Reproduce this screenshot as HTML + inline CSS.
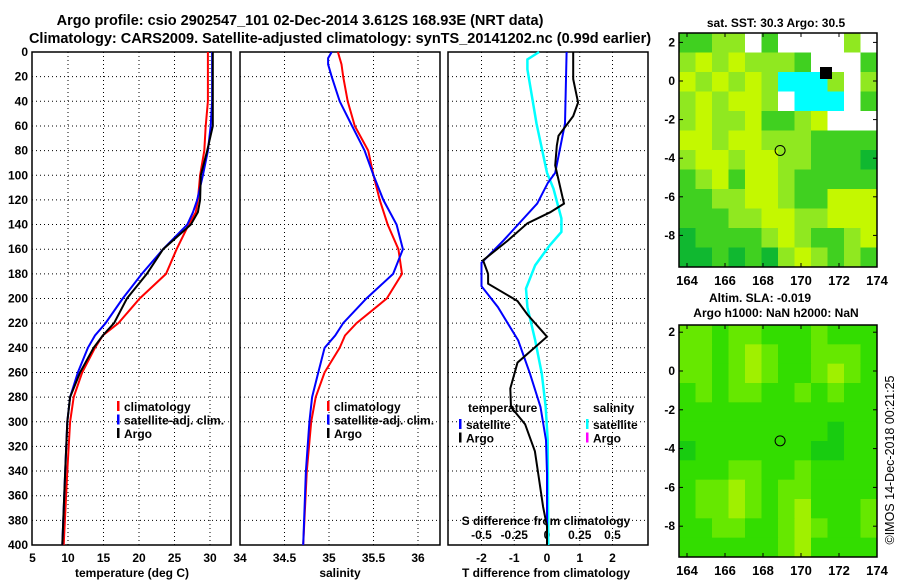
<!DOCTYPE html>
<html><head><meta charset="utf-8"><style>
body{margin:0;background:#fff;}
svg text{font-family:"Liberation Sans",sans-serif;font-weight:bold;fill:#000;}
</style></head><body>
<svg id="c" width="900" height="580" xmlns="http://www.w3.org/2000/svg"></svg>
<script>
// ---------- DATA ----------
const depths = [0,20,40,60,80,100,120,130,140,160,180,200,220,230,240,260,280,300,340,400];
const tempClim = [29.7,29.7,29.7,29.4,29.2,28.6,28.3,28.0,27.0,25.3,23.8,20.1,17.1,14.9,13.8,12.0,10.8,10.3,9.9,9.4];
const tempSat  = [30.3,30.3,30.3,30.1,29.7,29.0,28.2,27.6,26.8,23.4,20.4,17.7,15.3,13.8,12.8,11.4,10.3,9.9,9.6,9.2];
const tempArgo = [30.4,30.4,30.4,30.4,29.6,28.7,28.6,28.3,27.3,23.4,21.1,18.3,16.5,14.9,13.6,11.7,10.3,9.9,9.6,9.2];
const salDepths = [0,5,10,20,40,60,80,100,120,140,160,180,200,220,230,240,260,280,300,340,400];
const salClim = [35.1,35.12,35.14,35.16,35.21,35.29,35.44,35.5,35.57,35.66,35.78,35.82,35.65,35.31,35.18,35.12,34.95,34.85,34.8,34.75,34.71];
const salSat  = [35.03,34.99,34.99,35.03,35.12,35.26,35.4,35.5,35.61,35.76,35.83,35.72,35.42,35.16,35.07,34.95,34.88,34.81,34.78,34.74,34.71];
const dDepthSat = [0,58,98,106,123,153,171,190,207,234,261,288,315,342,400];
const dTSat = [0.6,0.55,0.25,0.03,-0.3,-1.33,-2.0,-2.0,-1.5,-0.88,-0.52,-0.2,-0.03,0,0];
const dDepthArgo = [0,22,41,52,68,76,92,123,130,139,153,169,180,188,202,213,231,252,273,288,302,324,342,369,385,400];
const dTArgo = [0.8,0.8,0.95,0.8,0.35,0.3,0.25,0.52,0.1,-0.6,-1.2,-1.95,-1.8,-1.8,-0.9,-0.6,0,-0.9,-1.12,-1.1,-0.67,-0.37,-0.27,-0.12,0,0];
const dDepthS = [0,6,14,58,98,111,135,146,157,173,192,207,234,261,288,315,400];
const dSSat = [-0.06,-0.15,-0.15,-0.08,0,0.05,0.11,0.11,0.02,-0.09,-0.16,-0.15,-0.09,-0.04,-0.01,0.005,0.01];
const depthTicks = [0,20,40,60,80,100,120,140,160,180,200,220,240,260,280,300,320,340,360,380,400];
const tTicks = [5,10,15,20,25,30];
const sTicks = [34,34.5,35,35.5,36];
const dTTicks = [-2,-1,0,1,2];
const dSTicks = [-0.5,-0.25,0,0.25,0.5];
const sstGrid = [
[3,3,2,2,0,3,0,0,0,0,2,0],
[2,1,2,1,2,2,2,3,0,0,0,3],
[1,2,1,2,1,2,5,5,5,2,0,2],
[2,1,2,1,1,2,0,5,5,5,0,3],
[2,1,2,2,1,3,3,2,1,0,0,0],
[1,1,2,1,1,2,2,2,3,3,3,3],
[2,1,1,2,1,1,2,2,3,3,3,4],
[3,2,1,3,1,1,2,3,3,3,3,3],
[3,3,2,2,1,1,2,3,3,1,1,1],
[3,3,3,2,2,1,1,2,2,1,1,1],
[4,3,3,3,3,2,1,2,3,3,2,1],
[4,4,3,4,3,4,2,1,2,3,2,3]];
const slaGrid = [
[2,2,3,2,2,3,3,3,2,3,3,3],
[2,2,3,2,1,2,3,3,2,2,2,3],
[2,2,3,2,1,2,3,3,2,1,2,3],
[3,2,3,2,2,3,3,2,3,2,3,3],
[3,3,3,3,3,3,3,3,3,3,3,3],
[3,3,3,3,3,3,3,3,3,4,3,3],
[4,3,3,3,3,3,3,3,4,4,3,3],
[3,3,3,2,2,3,3,2,3,3,3,3],
[3,2,2,1,2,3,2,2,3,3,3,3],
[3,2,2,1,2,3,2,1,3,3,3,2],
[3,3,2,2,3,3,2,1,2,3,3,2],
[3,3,3,3,3,3,2,1,3,3,3,3]];
const lonTicks = [164,166,168,170,172,174];
const latTicks = [2,0,-2,-4,-6,-8];
const argoLon = 168.9, argoLat = -3.6;

// ---------- HELPERS ----------
const NS="http://www.w3.org/2000/svg", svg=document.getElementById('c');
function el(t,a,p){const e=document.createElementNS(NS,t);for(const k in a)e.setAttribute(k,a[k]);(p||svg).appendChild(e);return e;}
function txt(s,x,y,anchor,size,p){const e=el('text',{x:x,y:y,'text-anchor':anchor||'middle','font-size':size||12},p);e.textContent=s;return e;}
const plotTop=52, plotBot=545;
const yD = d => plotTop + d*(plotBot-plotTop)/400;
const xT = t => 32.5 + (t-5)*7.1;
const xS = s => 240 + (s-34)*89;
const xDT = t => 547 + t*32.75;
const xDS = s => 547 + s*131;

function panel(x0,x1,name,xticks,xf){
  const g=el('g',{});
  
  
  el('rect',{x:x0,y:plotTop,width:x1-x0,height:plotBot-plotTop,fill:'#fff',stroke:'#000','stroke-width':1.5},g);
  depthTicks.forEach(d=>{ if(d>0&&d<400) el('line',{x1:x0,x2:x1,y1:yD(d),y2:yD(d),stroke:'#000','stroke-dasharray':'1,3'},g);});
  xticks.forEach(v=>{const x=xf(v); if(x>x0+2&&x<x1-2) el('line',{x1:x,x2:x,y1:plotTop,y2:plotBot,stroke:'#000','stroke-dasharray':'1,3'},g);});
  return g;
}
function line(ds,vs,xf,col,w,name){
  const pts=ds.map((d,i)=>xf(vs[i]).toFixed(1)+','+yD(d).toFixed(1)).join(' ');
  const p=el('polyline',{points:pts,fill:'none',stroke:col,'stroke-width':w||2});
  
  
}

// titles
let t1=txt('Argo profile: csio 2902547_101 02-Dec-2014 3.612S 168.93E (NRT data)',300,25,'middle',14.5);


let t2=txt('Climatology: CARS2009. Satellite-adjusted climatology: synTS_20141202.nc (0.99d earlier)',340,43,'middle',14.5);



// panel 1
panel(32,231,'temperature-panel',tTicks,xT);
depthTicks.forEach(d=>txt(String(d),28,yD(d)+4,'end',12));
tTicks.forEach(v=>txt(String(v),xT(v),562,'middle',12));
txt('34',xS(34),562,'middle',12);
let xl=txt('temperature (deg C)',132,577,'middle',12);


line(depths,tempClim,xT,'#f00',2,'temp-climatology-line');
line(depths,tempSat,xT,'#00f',2,'temp-satellite-line');
line(depths,tempArgo,xT,'#000',2,'temp-argo-line');
[['climatology','#f00'],['satellite-adj. clim.','#00f'],['Argo','#000']].forEach((l,i)=>{
  const y=407+i*13.5;
  el('rect',{x:117,y:y-6,width:2.5,height:10,fill:l[1]});
  const e=txt(l[0],124,y+4,'start',12);
  
  
});

// panel 2
panel(240,440,'salinity-panel',sTicks,xS);
sTicks.slice(1).forEach(v=>txt(String(v),xS(v),562,'middle',12));
let xl2=txt('salinity',340,577,'middle',12);


line(salDepths,salClim,xS,'#f00',2,'sal-climatology-line');
line(salDepths,salSat,xS,'#00f',2,'sal-satellite-line');
[['climatology','#f00'],['satellite-adj. clim.','#00f'],['Argo','#000']].forEach((l,i)=>{
  const y=407+i*13.5;
  el('rect',{x:327,y:y-6,width:2.5,height:10,fill:l[1]});
  const e=txt(l[0],334,y+4,'start',12);
  
  
});

// panel 3
panel(448,648,'difference-panel',dTTicks,xDT);
dTTicks.forEach(v=>txt(String(v),xDT(v),562,'middle',12));
let xl3=txt('T difference from climatology',546,577,'middle',12);


txt('S difference from climatology',546,525,'middle',12);
dSTicks.forEach(v=>txt(String(v),xDS(v),539,'middle',12));
line(dDepthS,dSSat,xDS,'#0ff',2.5,'sal-diff-satellite-line');
line(dDepthSat,dTSat,xDT,'#00f',2,'temp-diff-satellite-line');
line(dDepthArgo,dTArgo,xDT,'#000',2,'temp-diff-argo-line');
txt('temperature',468,412,'start',12);
txt('salinity',593,412,'start',12);
[['satellite','#00f',459],['Argo','#000',459],['satellite','#0ff',586],['Argo','#f0f',586]].forEach((l,i)=>{
  const y=425+(i%2)*13.5;
  el('rect',{x:l[2],y:y-6,width:2.5,height:10,fill:l[1]});
  const e=txt(l[0],l[2]+7,y+4,'start',12);
  
  
});

// maps
const lonX = lo => 687 + (lo-164)*19;
function map(grid,pal,y0,y1,latY,labelY,name){
  const g=el('g',{});
  
  
  const x0=679,x1=877,nr=grid.length,nc=grid[0].length;
  const cw=(x1-x0)/nc, ch=(y1-y0)/nr;
  grid.forEach((row,r)=>row.forEach((v,c)=>{
    el('rect',{x:x0+c*cw,y:y0+r*ch,width:cw+0.5,height:ch+0.5,fill:pal[v]},g);
  }));
  el('rect',{x:x0,y:y0,width:x1-x0,height:y1-y0,fill:'none',stroke:'#000','stroke-width':1.5},g);
  lonTicks.forEach(v=>{
    el('line',{x1:lonX(v),x2:lonX(v),y1:y1,y2:y1-4,stroke:'#000'},g);
    el('line',{x1:lonX(v),x2:lonX(v),y1:y0,y2:y0+4,stroke:'#000'},g);
    txt(String(v),lonX(v),labelY,'middle',13,g);
  });
  latTicks.forEach(v=>{
    el('line',{x1:x0,x2:x0+4,y1:latY(v),y2:latY(v),stroke:'#000'},g);
    el('line',{x1:x1,x2:x1-4,y1:latY(v),y2:latY(v),stroke:'#000'},g);
    txt(String(v),675,latY(v)+4,'end',12,g);
  });
  el('circle',{cx:lonX(argoLon),cy:latY(argoLat),r:5,fill:'none',stroke:'#000'},g);
}
map(sstGrid,['#fff','#c4f800','#90e820','#40d020','#10b830','#00ffff'],33,267,la=>81-la*19.3,285,'sst-map');
el('rect',{x:820,y:67,width:12,height:12,fill:'#000'});
let m1=txt('sat. SST: 30.3 Argo: 30.5',776,27,'middle',12);


map(slaGrid,['#fff','#a0f000','#66e800','#33dd00','#18cc10'],325,557,la=>371-la*19.4,575,'sla-map');
let m2=txt('Altim. SLA: -0.019',760,302,'middle',12);


let m3=txt('Argo h1000: NaN h2000: NaN',776,317,'middle',12);


let cp=txt('©IMOS 14-Dec-2018 00:21:25',0,0,'middle',12.5);
cp.setAttribute('transform','translate(894,460) rotate(-90)');
cp.setAttribute('style','font-weight:normal');


</script>
</body></html>
